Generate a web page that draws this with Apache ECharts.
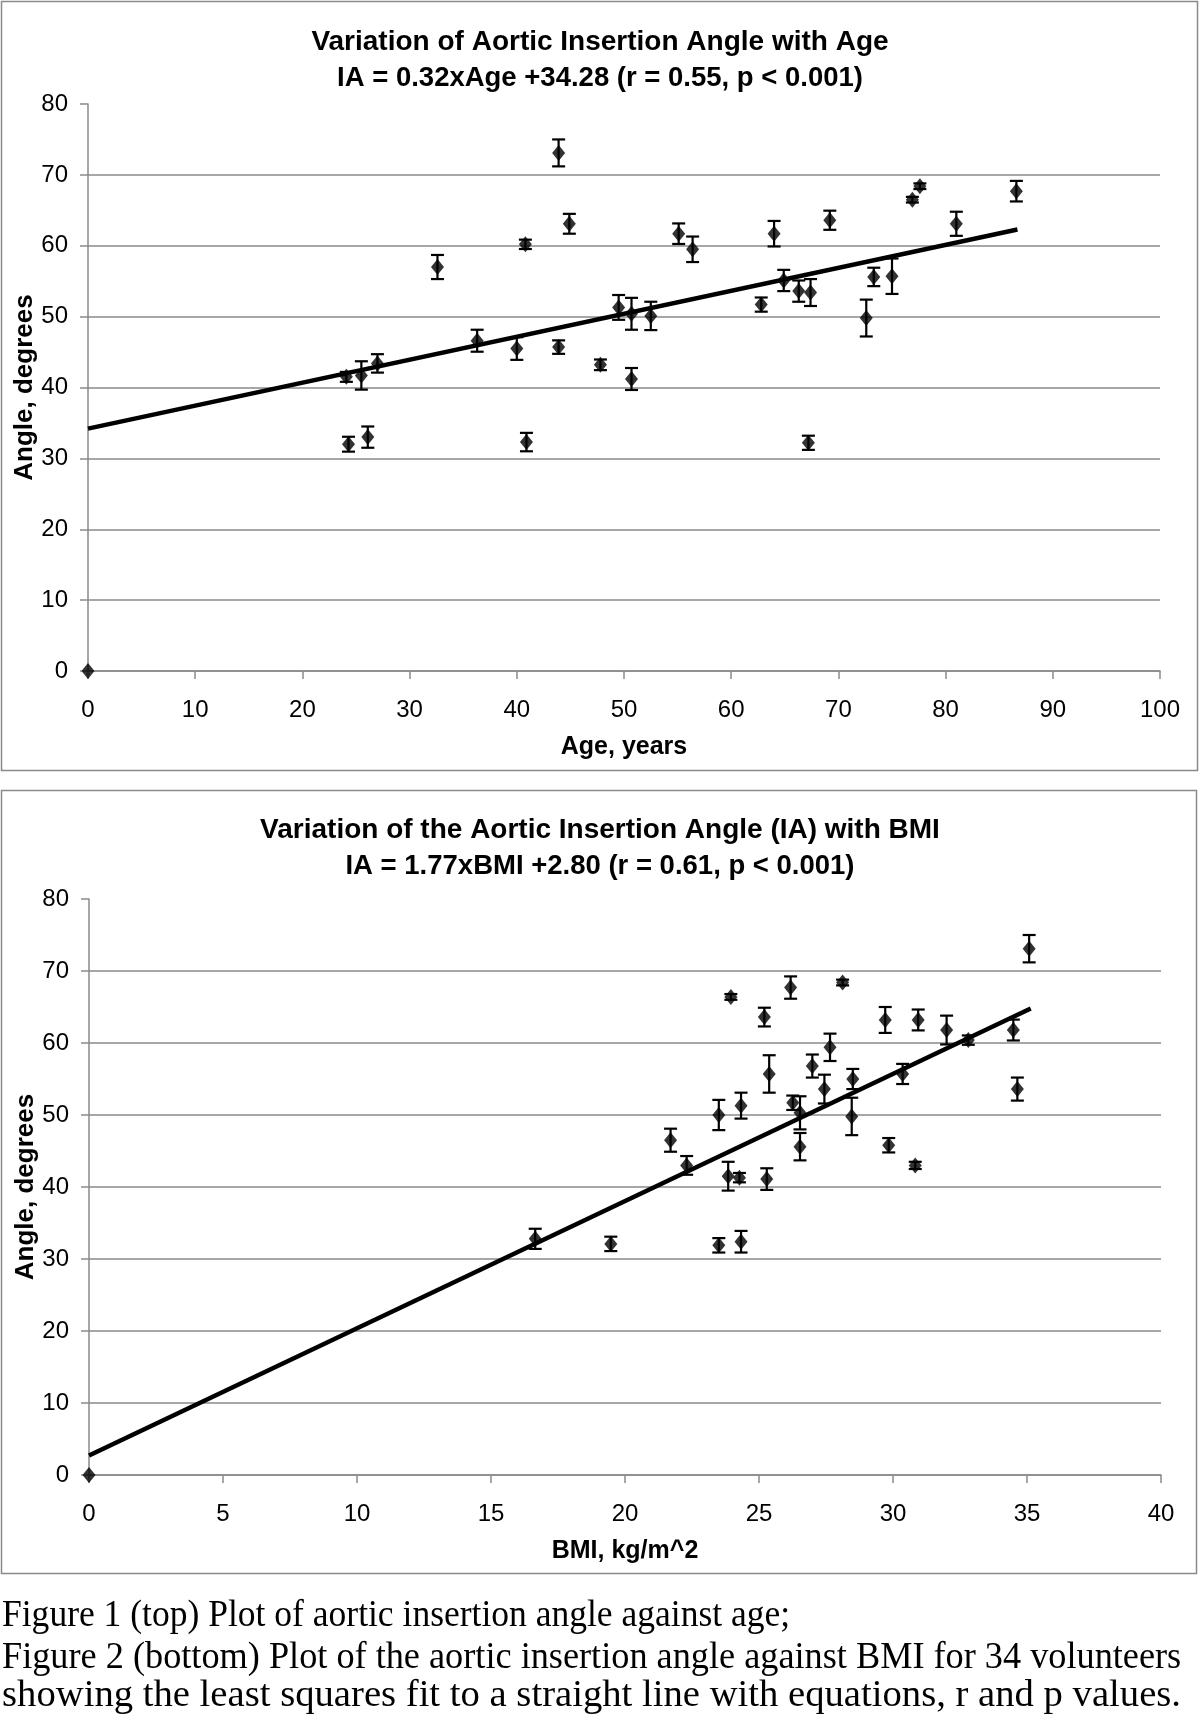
<!DOCTYPE html>
<html>
<head>
<meta charset="utf-8">
<title>Aortic insertion angle vs age and BMI</title>
<script src="https://cdn.jsdelivr.net/npm/echarts@6/dist/echarts.min.js"></script>
<style>
  html, body { margin: 0; padding: 0; background: #fff; }
  #chart { width: 1200px; height: 1724px; }
</style>
</head>
<body>
<div id="chart"></div>
<script>
// Figure 1: insertion angle against age (first entry is the origin marker)
const ageYears = [0, 24.1, 25.5, 27.0, 24.3, 26.1, 32.6, 36.3, 40.0, 40.8, 40.9, 43.9, 43.9, 44.9, 47.8, 49.5, 50.7, 50.7, 52.5, 55.1, 56.4,
  62.8, 64.0, 64.9, 66.3, 67.4, 67.2, 69.2, 72.6, 73.3, 75.0, 76.9, 77.6, 81.0, 86.6];
const ageAngle = [0, 41.5, 41.7, 43.4, 32.0, 33.0, 57.0, 46.6, 45.5, 60.2, 32.3, 73.1, 45.7, 63.1, 43.2, 51.3, 50.4, 41.2, 50.1, 61.7, 59.5,
  51.7, 61.7, 55.1, 53.6, 53.4, 32.2, 63.6, 49.8, 55.6, 55.7, 66.5, 68.4, 63.1, 67.7];
const ageError = [0, 0.7, 2.0, 1.3, 1.05, 1.5, 1.7, 1.55, 1.6, 0.66, 1.3, 1.9, 0.95, 1.4, 0.75, 1.75, 2.25, 1.55, 2.0, 1.45, 1.8,
  1.0, 1.8, 1.5, 1.5, 1.9, 1.0, 1.35, 2.6, 1.3, 2.5, 0.4, 0.4, 1.7, 1.45];
const ageTrend = [[0, 34.2], [86.7, 62.3]];

// Figure 2: insertion angle against BMI
const bmiValues = [0, 16.65, 19.47, 21.7, 22.3, 23.5, 23.5, 23.85, 23.95, 24.27, 24.33, 24.33, 25.2, 25.29, 25.38, 26.18, 26.26, 26.53,
  26.53, 26.99, 27.44, 27.65, 28.12, 28.46, 28.5, 29.71, 29.84, 30.36, 30.83, 30.94, 32.0, 32.81, 34.49, 34.64, 35.08];
const bmiAngle = [0, 32.8, 32.1, 46.5, 43.0, 50.0, 31.9, 41.5, 66.4, 41.3, 51.3, 32.4, 63.6, 41.1, 55.7, 67.7, 51.7, 50.3,
  45.6, 56.8, 53.6, 59.4, 68.4, 49.8, 55.0, 63.2, 45.8, 55.7, 43.0, 63.2, 61.8, 60.4, 61.8, 53.6, 73.1];
const bmiError = [0, 1.4, 1.0, 1.6, 1.3, 2.1, 1.0, 2.0, 0.4, 0.65, 1.8, 1.5, 1.3, 1.5, 2.6, 1.55, 1.0, 2.3,
  1.9, 1.6, 2.0, 1.9, 0.4, 2.6, 1.4, 1.8, 1.0, 1.4, 0.5, 1.45, 2.0, 0.65, 1.45, 1.6, 1.9];
const bmiTrend = [[0, 2.7], [35.14, 64.8]];

const ageTicks = { min: 0, max: 100, interval: 10 };
const bmiTicks = { min: 0, max: 40, interval: 5 };
const angleTicks = { min: 0, max: 80, interval: 10 };

const captionLines = [
  "Figure 1 (top) Plot of aortic insertion angle against age;",
  "Figure 2 (bottom) Plot of the aortic insertion angle against BMI for 34 volunteers",
  "showing the least squares fit to a straight line with equations, r and p values."
];

const SANS = '"Liberation Sans", Arial, sans-serif';
const SERIF = '"Liberation Serif", "Times New Roman", serif';
const GRAY = "#8a8a8a";

function xAxisFor(gridIndex, ticks, name) {
  return {
    gridIndex,
    type: "value",
    ...ticks,
    name,
    nameLocation: "middle",
    nameGap: 64,
    nameTextStyle: { fontFamily: SANS, fontSize: 25, fontWeight: "bold", color: "#000" },
    axisLine: { show: true, onZero: false, lineStyle: { color: GRAY, width: 1.5 } },
    axisTick: { show: true, length: 8, lineStyle: { color: GRAY, width: 1.5 } },
    axisLabel: { fontFamily: SANS, fontSize: 24, color: "#000", margin: 27 },
    splitLine: { show: false }
  };
}

function yAxisFor(gridIndex) {
  return {
    gridIndex,
    type: "value",
    ...angleTicks,
    name: "Angle, degrees",
    nameLocation: "middle",
    nameGap: 50,
    nameMoveOverlap: false,
    nameTextStyle: { fontFamily: SANS, fontSize: 26, fontWeight: "bold", color: "#000" },
    axisLine: { show: true, onZero: false, lineStyle: { color: GRAY, width: 1.5 } },
    axisTick: { show: true, length: 8, lineStyle: { color: GRAY, width: 1.5 } },
    axisLabel: { fontFamily: SANS, fontSize: 24, color: "#000", margin: 20 },
    splitLine: { show: true, showMaxLine: false, lineStyle: { color: GRAY, width: 1.5 } }
  };
}

function renderErrorBar(params, api) {
  const x = api.value(0);
  const lo = api.value(1);
  const hi = api.value(2);
  if (hi - lo <= 0) {
    return null;
  }
  const top = api.coord([x, hi]);
  const bottom = api.coord([x, lo]);
  const half = 6.5;
  const style = { stroke: "#000", lineWidth: 2.2 };
  return {
    type: "group",
    children: [
      { type: "line", shape: { x1: top[0], y1: top[1], x2: bottom[0], y2: bottom[1] }, style },
      { type: "line", shape: { x1: top[0] - half, y1: top[1], x2: top[0] + half, y2: top[1] }, style },
      { type: "line", shape: { x1: bottom[0] - half, y1: bottom[1], x2: bottom[0] + half, y2: bottom[1] }, style }
    ]
  };
}

function seriesFor(index, xs, ys, errs, trend) {
  return [
    {
      type: "line",
      xAxisIndex: index,
      yAxisIndex: index,
      data: trend,
      showSymbol: false,
      lineStyle: { color: "#000", width: 4.5 },
      z: 2
    },
    {
      type: "custom",
      xAxisIndex: index,
      yAxisIndex: index,
      renderItem: renderErrorBar,
      data: xs.map((x, i) => [x, ys[i] - errs[i], ys[i] + errs[i]]),
      clip: false,
      z: 3
    },
    {
      type: "scatter",
      xAxisIndex: index,
      yAxisIndex: index,
      data: xs.map((x, i) => [x, ys[i]]),
      symbol: "diamond",
      symbolSize: [13, 16],
      itemStyle: { color: "#000" },
      clip: false,
      z: 4
    }
  ];
}

function titleFor(top, text, subtext) {
  const style = { fontFamily: SANS, fontSize: 28, fontWeight: "bold", color: "#000" };
  const subStyle = { ...style, fontSize: 27.5 };
  return { text, subtext, left: "center", top, itemGap: 8, textStyle: style, subtextStyle: subStyle };
}

const chart = echarts.init(document.getElementById("chart"), null, { renderer: "canvas" });

chart.setOption({
  animation: false,
  backgroundColor: "#fff",
  title: [
    titleFor(23, "Variation of Aortic Insertion Angle with Age", "IA = 0.32xAge +34.28 (r = 0.55, p < 0.001)"),
    titleFor(811, "Variation of the Aortic Insertion Angle (IA) with BMI", "IA = 1.77xBMI +2.80 (r = 0.61, p < 0.001)")
  ],
  grid: [
    { left: 88, right: 40, top: 104, height: 567, outerBoundsMode: "none" },
    { left: 89, right: 39, top: 899, height: 576, outerBoundsMode: "none" }
  ],
  xAxis: [xAxisFor(0, ageTicks, "Age, years"), xAxisFor(1, bmiTicks, "BMI, kg/m^2")],
  yAxis: [yAxisFor(0), yAxisFor(1)],
  series: [
    ...seriesFor(0, ageYears, ageAngle, ageError, ageTrend),
    ...seriesFor(1, bmiValues, bmiAngle, bmiError, bmiTrend)
  ],
  graphic: [
    { type: "rect", shape: { x: 1.5, y: 1.5, width: 1196, height: 769 }, style: { fill: null, stroke: GRAY, lineWidth: 1.5 }, silent: true },
    { type: "rect", shape: { x: 1.5, y: 790.5, width: 1195, height: 783 }, style: { fill: null, stroke: GRAY, lineWidth: 1.5 }, silent: true },
    ...captionLines.map((line, i) => ({
      type: "text",
      x: 2,
      y: [1616, 1658, 1696][i],
      scaleX: [0.96, 0.98, 1.045][i],
      style: { text: line, font: `37px ${SERIF}`, fill: "#000", verticalAlign: "middle" },
      silent: true
    }))
  ]
});
</script>
</body>
</html>
